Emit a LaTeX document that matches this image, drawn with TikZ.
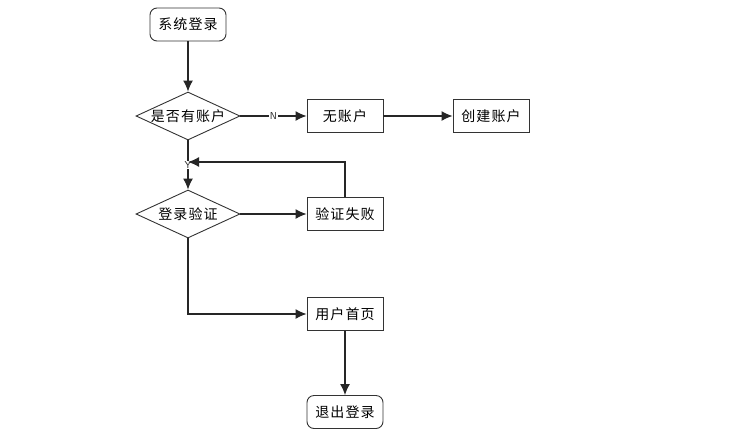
\documentclass[tikz,border=0pt]{standalone}
\usepackage{fontspec}
\setmainfont[LetterSpace=8]{Noto Sans CJK SC}
\usetikzlibrary{shapes.geometric,arrows.meta,positioning}
\begin{document}
\begin{tikzpicture}[x=1pt,y=-1pt,>={Latex[length=11pt,width=10pt]},node distance=2cm,font=\fontsize{14}{16}\selectfont]

	% Define node styles
	\tikzstyle{term node} = [rectangle, rounded corners=7pt, draw=black!80, line width=0.9pt, minimum width=76pt, minimum height=33pt, inner sep=1pt]
	\tikzstyle{task node} = [rectangle, draw=black!80, line width=0.9pt, minimum width=76pt, minimum height=33pt, inner sep=1pt]
	\tikzstyle{choice node} = [diamond, draw=black!80, line width=0.9pt, aspect=2.2, minimum width=104pt, minimum height=48pt, inner sep=0pt]
	\tikzstyle{flow} = [->, line width=1.3pt, black!85]
	\tikzstyle{tag} = [fill=white, inner sep=0.5pt, font=\fontsize{10}{11}\selectfont\sffamily]

	\useasboundingbox (0,0) rectangle (752,445);

	% Place nodes
	\node[term node] (login) at (188,24.5) {系统登录};
	\node[choice node] (hasacct) [below of=login, node distance=91.5pt] {是否有账户};
	\node[task node] (noacct) [right of=hasacct, node distance=157pt] {无账户};
	\node[task node] (create) [right of=noacct, node distance=146pt] {创建账户};

	\node[choice node] (verify) [below of=hasacct, node distance=98pt] {登录验证};
	\node[task node] (fail) [right of=verify, node distance=157pt] {验证失败};

	\node[task node] (home) [below of=fail, node distance=100pt] {用户首页};
	\node[term node] (logout) [below of=home, node distance=98pt] {退出登录};

	\coordinate (back) at (188,162);

	% Draw connectors
	\draw[flow] (login) -- (hasacct);
	\draw[flow] (hasacct) -- node[tag] {N} (noacct);
	\draw[flow] (noacct) -- (create);
	\draw[flow] (hasacct) -- node[tag] {Y} (verify);
	\draw[flow] (verify) -- (fail);
	\draw[flow] (fail.north) |- (back);
	\draw[flow] (verify.south) |- (home.west);
	\draw[flow] (home) -- (logout);

\end{tikzpicture}
\end{document}
